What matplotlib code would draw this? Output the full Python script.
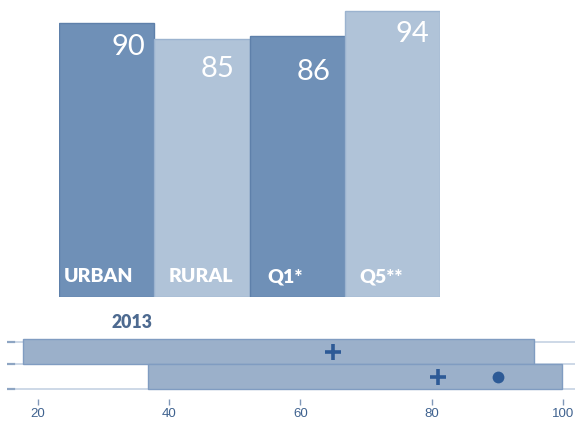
import matplotlib
matplotlib.use("Agg")
import matplotlib.pyplot as plt

# ---- data ----
categories = ["URBAN", "RURAL", "Q1*", "Q5**"]
values = [90, 85, 86, 94]
year_label = "2013"

range_rows = [1, 0]            # upper row, lower row
range_low = [17.7, 36.8]
range_high = [95.5, 99.8]
plus_values = [65, 81]
dot_row = 0
dot_value = 90
xticks = [20, 40, 60, 80, 100]

# ---- style ----
dark = "#6f90b7"
light = "#b0c3d8"
bar_colors = [dark, light, dark, light]
edge_colors = ["#5e80aa", "#9bb3cf", "#5e80aa", "#9bb3cf"]
FONT = "Lato"

W, H = 575, 422
fig = plt.figure(figsize=(W / 100, H / 100), dpi=100)

# ---------- top bar chart ----------
ax = fig.add_axes([59 / W, (H - 297) / H, 381 / W, 297 / H])
xs = list(range(len(categories)))
ax.bar(xs, values, width=1.0, color=bar_colors, edgecolor=edge_colors, linewidth=1.0)
ax.set_xlim(-0.5, len(categories) - 0.5)
ax.set_ylim(0, 97.7)
ax.axis("off")

px = 1 / 1.389  # pixel -> point
val_dy = [24, 30, 36, 23]
val_dx = [9, 15, 14, 11]
lab_dx = [5, 14, 18, 15]
for i, (c, v) in enumerate(zip(categories, values)):
    ax.annotate(str(v), xy=(i + 0.5, v), xytext=(-val_dx[i] * px, -val_dy[i] * px),
                textcoords="offset points", ha="right", va="center",
                color="white", fontsize=21, family=FONT, annotation_clip=False)
    ax.annotate(c, xy=(i - 0.5, 0), xytext=(lab_dx[i] * px, 20.3 * px),
                textcoords="offset points", ha="left", va="center",
                color="white", fontsize=14, fontweight="heavy", family=FONT)

fig.text(131.7 / W, 1 - 322.7 / H, year_label, ha="center", va="center",
         fontsize=12.7, fontweight="heavy", color="#4d6a90", family=FONT)

# ---------- bottom range chart ----------
bx = fig.add_axes([7 / W, (H - 399) / H, 568 / W, 64 / H])
bx.set_xlim(15.33, 101.78)
bx.set_ylim(-0.39, 2.17)

for y in [0, 1, 2]:
    yy = y - (0.1 if y == 2 else 0)
    bx.axhline(yy, color="#c9d5e5", lw=1.3, zorder=0)
    bx.plot([15.33, 16.4], [yy, yy], color="#8ea5c3", lw=1.6, zorder=1)

for r, lo, hi in zip(range_rows, range_low, range_high):
    bx.barh(r + 0.5, hi - lo, left=lo, height=1.0, color="#9bb0ca",
            edgecolor="#809cc1", linewidth=1.0, zorder=2)

for r, p in zip(range_rows, plus_values):
    bx.plot(p, r + 0.5, marker="+", markersize=11, mew=2.6, color="#2d5a96", zorder=3)
bx.plot(dot_value, dot_row + 0.5, marker="o", markersize=8.5, color="#2d5a96",
        mec="none", zorder=3)

for s in bx.spines.values():
    s.set_visible(False)
bx.set_yticks([])
bx.set_xticks(xticks)
bx.set_xticklabels([str(t) for t in xticks], family="Liberation Sans", fontsize=9.5,
                   color="#3f628f")
bx.tick_params(axis="x", length=4, width=1, color="#8098b8", pad=2.5)

fig.savefig("out.png", dpi=100)
